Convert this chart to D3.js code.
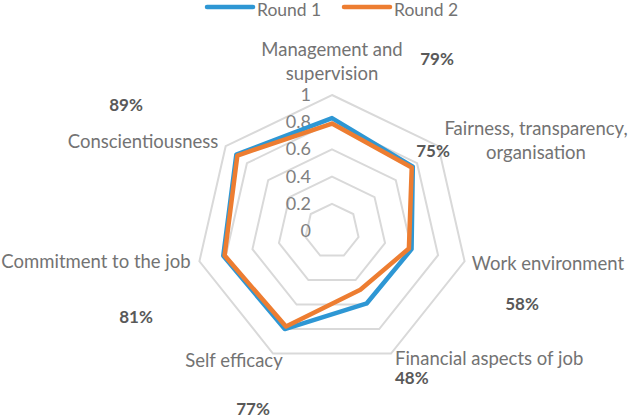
<!DOCTYPE html>
<html>
<head>
<meta charset="utf-8">
<script src="https://cdn.jsdelivr.net/npm/d3@7"></script>
<style>
  body { margin: 0; background: #fff; }
  text { font-family: Lato, "Open Sans", sans-serif; }
</style>
</head>
<body>
<div id="chart"></div>
<script>
// data
let categories = ["Management and supervision", "Fairness, transparency, organisation",
  "Work environment", "Financial aspects of job", "Self efficacy",
  "Commitment to the job", "Conscientiousness"];
let round1 = [0.83, 0.76, 0.60, 0.59, 0.80, 0.82, 0.90];
let round2 = [0.79, 0.75, 0.58, 0.48, 0.78, 0.81, 0.89];
let pctLabels = ["79%", "75%", "58%", "48%", "77%", "81%", "89%"];
let ticks = [0, 0.2, 0.4, 0.6, 0.8, 1];
let seriesNames = ["Round 1", "Round 2"];
let colors = ["#2e97d4", "#ed7d31"];

// layout only (label lines and where they sit)
let catLines = [["Management and", "supervision"], ["Fairness, transparency,", "organisation"],
  ["Work environment"], ["Financial aspects of job"], ["Self efficacy"],
  ["Commitment to the job"], ["Conscientiousness"]];
let catPos = [[332, 56, "middle"], [536, 135, "middle"], [548, 270, "middle"], [395, 365, "start"],
  [234, 367, "middle"], [96, 268, "middle"], [143, 148, "middle"]];
let pctPos = [[437, 65, "middle"], [433, 157, "middle"], [522, 310, "middle"], [395, 384, "start"],
  [253, 415, "middle"], [136, 323, "middle"], [126, 111, "middle"]];

let width = 630, height = 419;
let cx = 332, cy = 231, R = 136;

let svg = d3.select("#chart").append("svg")
  .attr("width", width).attr("height", height);

let r = d3.scaleLinear().domain([0, 1]).range([0, R]);
let angle = d3.scaleLinear().domain([0, categories.length]).range([0, 2 * Math.PI]);

let g = svg.append("g").attr("transform", `translate(${cx},${cy})`);

// grid heptagons
let ring = d3.lineRadial().curve(d3.curveLinearClosed);
ticks.filter(t => t > 0).forEach(t => {
  g.append("path")
    .attr("d", ring(categories.map((c, i) => [angle(i), r(t)])))
    .attr("fill", "none")
    .attr("stroke", "#d9d9d9")
    .attr("stroke-width", 2);
});

// tick labels
g.selectAll(".tick").data(ticks).enter().append("text")
  .attr("x", -21)
  .attr("y", d => -r(d) + 6)
  .attr("text-anchor", "end")
  .attr("font-size", 18)
  .attr("fill", "#808080")
  .text(d => d);

// series
[round1, round2].forEach((s, k) => {
  g.append("path")
    .attr("d", ring(s.map((v, i) => [angle(i), r(v)])))
    .attr("fill", "none")
    .attr("stroke", colors[k])
    .attr("stroke-width", 4.5)
    .attr("stroke-linejoin", "round");
});

// category labels
catLines.forEach((lines, i) => {
  let t = svg.append("text")
    .attr("text-anchor", catPos[i][2])
    .attr("font-size", 18.5)
    .attr("fill", "#737373");
  lines.forEach((l, j) => {
    t.append("tspan").attr("x", catPos[i][0]).attr("y", catPos[i][1] + j * 24).text(l);
  });
});

// percent labels
pctLabels.forEach((p, i) => {
  svg.append("text")
    .attr("x", pctPos[i][0]).attr("y", pctPos[i][1])
    .attr("text-anchor", pctPos[i][2])
    .attr("font-size", 17)
    .attr("font-weight", "bold")
    .attr("fill", "#595959")
    .text(p);
});

// legend
let legend = svg.append("g");
seriesNames.forEach((n, k) => {
  let x0 = 207 + k * 137;
  legend.append("line")
    .attr("x1", x0).attr("x2", x0 + 46)
    .attr("y1", 7).attr("y2", 7)
    .attr("stroke", colors[k]).attr("stroke-width", 4.5)
    .attr("stroke-linecap", "round");
  legend.append("text")
    .attr("x", x0 + 50).attr("y", 16)
    .attr("font-size", 17.5).attr("fill", "#737373")
    .text(n);
});
</script>
</body>
</html>
